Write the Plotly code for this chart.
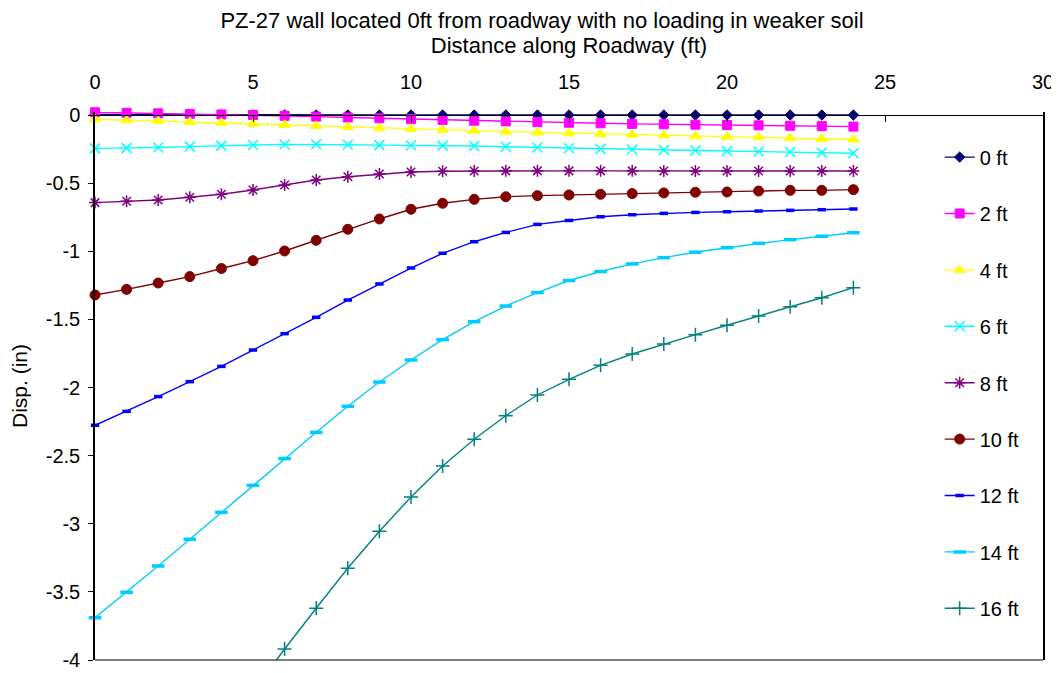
import plotly.graph_objects as go

x_all = list(range(25))

d0 = [0.004, 0.003, 0.002, 0.002, 0.001, 0.001, 0.0, 0.0, 0.0, 0.0, 0.0, 0.0, 0.0,
      0.0, 0.0, 0.0, 0.0, 0.0, 0.0, 0.0, 0.0, 0.0, 0.0, 0.0, 0.0]
d2 = [0.02, 0.016, 0.012, 0.008, 0.004, 0.0, -0.006, -0.012, -0.018, -0.024, -0.03,
      -0.036, -0.042, -0.047, -0.052, -0.057, -0.061, -0.065, -0.068, -0.071, -0.073,
      -0.076, -0.079, -0.082, -0.085]
d4 = [-0.032, -0.038, -0.044, -0.05, -0.057, -0.064, -0.072, -0.08, -0.088, -0.095,
      -0.102, -0.109, -0.115, -0.122, -0.128, -0.134, -0.14, -0.145, -0.15, -0.155,
      -0.159, -0.164, -0.169, -0.174, -0.18]
d6 = [-0.245, -0.243, -0.238, -0.232, -0.225, -0.22, -0.217, -0.215, -0.218, -0.221,
      -0.222, -0.225, -0.228, -0.233, -0.238, -0.244, -0.25, -0.253, -0.257, -0.261,
      -0.264, -0.268, -0.272, -0.277, -0.281]
d8 = [-0.643, -0.633, -0.624, -0.604, -0.582, -0.55, -0.514, -0.477, -0.453, -0.433,
      -0.418, -0.413, -0.411, -0.41, -0.41, -0.41, -0.41, -0.41, -0.411, -0.411,
      -0.411, -0.411, -0.411, -0.411, -0.411]
d10 = [-1.321, -1.28, -1.233, -1.186, -1.127, -1.069, -0.998, -0.92, -0.839, -0.763,
       -0.692, -0.648, -0.619, -0.6, -0.592, -0.587, -0.582, -0.577, -0.572, -0.567,
       -0.565, -0.558, -0.553, -0.553, -0.548]
d12 = [-2.277, -2.175, -2.067, -1.957, -1.845, -1.725, -1.605, -1.485, -1.358, -1.24,
       -1.123, -1.015, -0.93, -0.862, -0.803, -0.774, -0.747, -0.732, -0.722, -0.715,
       -0.71, -0.705, -0.7, -0.695, -0.69]
d14 = [-3.69, -3.503, -3.31, -3.114, -2.916, -2.718, -2.522, -2.329, -2.138, -1.96,
       -1.798, -1.649, -1.517, -1.402, -1.303, -1.215, -1.149, -1.093, -1.047, -1.007,
       -0.974, -0.942, -0.915, -0.89, -0.864]
x16 = list(range(5, 25))
d16 = [-4.23, -3.919, -3.62, -3.327, -3.055, -2.804, -2.576, -2.38, -2.207, -2.055,
       -1.94, -1.837, -1.754, -1.681, -1.612, -1.543, -1.475, -1.407, -1.341, -1.267]

names = ["0 ft", "2 ft", "4 ft", "6 ft", "8 ft", "10 ft", "12 ft", "14 ft", "16 ft"]

x_tickvals = [0, 5, 10, 15, 20, 25, 30]
x_ticktext = ["0", "5", "10", "15", "20", "25", "30"]
y_tickvals = [-4, -3.5, -3, -2.5, -2, -1.5, -1, -0.5, 0]
y_ticktext = ["-4", "-3.5", "-3", "-2.5", "-2", "-1.5", "-1", "-0.5", "0"]

xs = [x_all] * 8 + [x16]
ys = [d0, d2, d4, d6, d8, d10, d12, d14, d16]
colors = ["#000080", "#FF00FF", "#FFFF00", "#00FFFF", "#800080", "#800000",
          "#0000FF", "#00CCFF", "#008080"]
symbols = ["diamond", "square", "triangle-up", "x-thin-open", "asterisk-open",
           "circle", "line-ew", "line-ew", "cross-thin-open"]
sizes = [8, 9, 10, 10, 10, 10, 6, 9, 10]
mlw = [1, 1, 1, 1.5, 1.5, 1, 3.5, 3.5, 1.5]

Y_TOP = 0.022
y_range = [-4, Y_TOP]

fig = go.Figure()
for i in range(9):
    fig.add_trace(go.Scatter(
        x=xs[i], y=ys[i], name=names[i], mode="lines+markers",
        legendgroup=names[i],
        line=dict(color=colors[i], width=1.4),
        marker=dict(symbol=symbols[i], size=sizes[i], color=colors[i],
                    line=dict(color=colors[i], width=mlw[i])),
        cliponaxis=(i == 8),
    ))

# bottom frame line of the plot area
fig.add_shape(type="line", xref="x domain", yref="y domain", x0=0, x1=1, y0=0, y1=0,
              line=dict(color="black", width=1), layer="above")

fig.update_layout(
    width=1051, height=665,
    paper_bgcolor="white", plot_bgcolor="white",
    font=dict(family="Liberation Sans, Arial, sans-serif", size=20, color="black"),
    margin=dict(l=87, r=16, t=104, b=13),
    title=dict(text="PZ-27 wall located 0ft from roadway with no loading in weaker soil",
               x=534 / 1051, xanchor="center", y=1 - 12 / 665, yanchor="middle",
               font=dict(size=22)),
    showlegend=True,
    legend=dict(x=0.891, xanchor="left", y=0.9533, yanchor="top",
                bgcolor="rgba(0,0,0,0)", tracegroupgap=27.4, maxheight=620,
                traceorder="grouped", font=dict(size=20)),
    xaxis=dict(range=[0, 30], tickvals=x_tickvals, ticktext=x_ticktext, side="top",
               anchor="free", position=4 / (4 + Y_TOP),
               showgrid=False, zeroline=False, automargin=False,
               showline=True, mirror=False, linecolor="black", linewidth=1,
               ticks="inside", ticklen=6, tickcolor="black", ticklabelstandoff=18,
               title=dict(text="Distance along Roadway (ft)", font=dict(size=22),
                          standoff=10)),
    yaxis=dict(range=y_range, tickvals=y_tickvals, ticktext=y_ticktext,
               showgrid=False, zeroline=False, automargin=False,
               showline=True, mirror=True, linecolor="black", linewidth=1.5,
               ticks="outside", ticklen=5, tickcolor="black", ticklabelstandoff=4,
               title=dict(text="Disp. (in)", font=dict(size=21), standoff=29)),
)

fig.write_html("out.html")
